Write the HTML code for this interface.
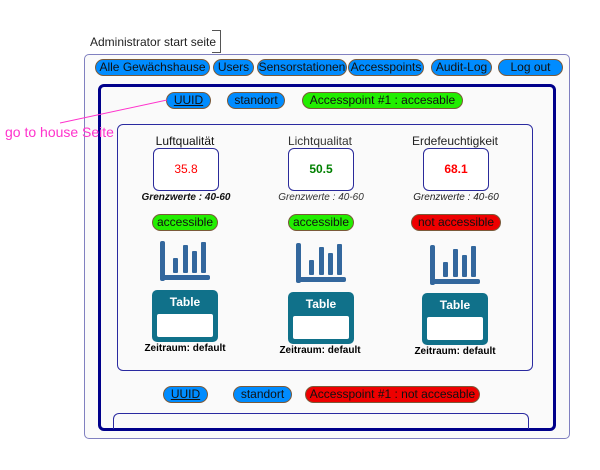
<!DOCTYPE html>
<html><head><meta charset="utf-8"><style>
body{margin:0;width:600px;height:470px;background:#fff;position:relative;overflow:hidden;font-family:"Liberation Sans",sans-serif;}
.a{position:absolute;box-sizing:border-box;}
.pill{position:absolute;box-sizing:border-box;border:1px solid #7a5a3a;border-radius:9px;background:#008cff;color:#111;font-size:12px;text-align:center;line-height:15px;white-space:nowrap;}
.t{position:absolute;white-space:nowrap;text-align:center;}
.val{position:absolute;box-sizing:border-box;border:1px solid #2a2a9a;border-radius:6px;background:#fff;font-size:12px;text-align:center;line-height:40px;}
.g{position:absolute;font-size:10px;font-weight:bold;font-style:italic;text-align:center;width:120px;}
.tab{position:absolute;box-sizing:border-box;width:66px;height:52px;background:#10718a;border-radius:5px;}
.tab span{position:absolute;left:0;width:66px;top:5px;text-align:center;color:#fff;font-weight:bold;font-size:12px;}
.tab i{position:absolute;left:5px;top:24px;width:56px;height:23px;background:#fff;border-radius:2px;}
.z{position:absolute;font-size:10px;font-weight:bold;width:120px;text-align:center;}
</style></head><body>
<div class="a" style="left:84px;top:54px;width:486px;height:385px;border:1px solid #8080c0;border-radius:5px;background:#fafafa"></div>
<div class="a" style="left:212px;top:30px;width:9px;height:23px;border-top:1.5px solid #555;border-right:1.5px solid #555;border-bottom:1.5px solid #555"></div>
<div class="t" style="left:90px;top:35px;font-size:12px;color:#222">Administrator start seite</div>

<div class="pill" style="left:95px;top:59px;width:115px;height:17px">Alle Gewächshause</div>
<div class="pill" style="left:213px;top:59px;width:41px;height:17px">Users</div>
<div class="pill" style="left:257px;top:59px;width:90px;height:17px">Sensorstationen</div>
<div class="pill" style="left:348px;top:59px;width:76px;height:17px">Accesspoints</div>
<div class="pill" style="left:431px;top:59px;width:61px;height:17px">Audit-Log</div>
<div class="pill" style="left:498px;top:59px;width:65px;height:17px">Log out</div>

<div class="a" style="left:98px;top:84px;width:458px;height:347px;border:3px solid #00008b;border-radius:6px"></div>

<div class="pill" style="left:166px;top:92px;width:45px;height:17px;text-decoration:underline">UUID</div>
<div class="pill" style="left:227px;top:92px;width:58px;height:17px">standort</div>
<div class="pill" style="left:302px;top:92px;width:161px;height:17px;background:#22ee00">Accesspoint #1 : accesable</div>

<svg class="a" style="left:0;top:0" width="600" height="470"><line x1="60" y1="123" x2="167" y2="100" stroke="#ff33cc" stroke-width="1"/></svg>
<div class="t" style="left:5px;top:124px;font-size:14px;color:#ff33cc">go to house Seite</div>

<div class="a" style="left:117px;top:124px;width:416px;height:247px;border:1px solid #2a2aa0;border-radius:6px"></div>

<div class="t" style="left:125px;top:134px;width:120px;font-size:12px;color:#111">Luftqualität</div>
<div class="t" style="left:260px;top:134px;width:120px;font-size:12px;color:#333">Lichtqualitat</div>
<div class="t" style="left:395px;top:134px;width:120px;font-size:12px;color:#222">Erdefeuchtigkeit</div>

<div class="val" style="left:153px;top:148px;width:66px;height:43px;color:#f00">35.8</div>
<div class="val" style="left:288px;top:148px;width:66px;height:43px;color:#008000;font-weight:bold">50.5</div>
<div class="val" style="left:423px;top:148px;width:66px;height:43px;color:#f00;font-weight:bold">68.1</div>

<div class="g" style="left:126px;top:192px;color:#111">Grenzwerte : 40-60</div>
<div class="g" style="left:261px;top:192px;color:#333;font-weight:normal">Grenzwerte : 40-60</div>
<div class="g" style="left:396px;top:192px;color:#222;font-weight:normal">Grenzwerte : 40-60</div>

<div class="pill" style="left:152px;top:214px;width:66px;height:17px;background:#22ee00">accessible</div>
<div class="pill" style="left:288px;top:214px;width:66px;height:17px;background:#22ee00">accessible</div>
<div class="pill" style="left:411px;top:214px;width:90px;height:17px;background:#ee0000">not accessible</div>

<svg class="a" style="left:0;top:0" width="600" height="470" fill="#33679d">
<g transform="translate(160,241)"><rect x="0" y="0" width="5" height="40" rx="2"/><rect x="0" y="34" width="50" height="5" rx="2"/><rect x="13" y="17" width="5" height="15" rx="1"/><rect x="23" y="4" width="5" height="28" rx="1"/><rect x="32" y="10" width="5" height="22" rx="1"/><rect x="41" y="1" width="5" height="31" rx="1"/></g>
<g transform="translate(296,243)"><rect x="0" y="0" width="5" height="40" rx="2"/><rect x="0" y="34" width="50" height="5" rx="2"/><rect x="13" y="17" width="5" height="15" rx="1"/><rect x="23" y="4" width="5" height="28" rx="1"/><rect x="32" y="10" width="5" height="22" rx="1"/><rect x="41" y="1" width="5" height="31" rx="1"/></g>
<g transform="translate(430,245)"><rect x="0" y="0" width="5" height="40" rx="2"/><rect x="0" y="34" width="50" height="5" rx="2"/><rect x="13" y="17" width="5" height="15" rx="1"/><rect x="23" y="4" width="5" height="28" rx="1"/><rect x="32" y="10" width="5" height="22" rx="1"/><rect x="41" y="1" width="5" height="31" rx="1"/></g>
</svg>

<div class="tab" style="left:152px;top:290px"><span>Table</span><i></i></div>
<div class="tab" style="left:288px;top:292px"><span>Table</span><i></i></div>
<div class="tab" style="left:422px;top:293px"><span>Table</span><i></i></div>

<div class="z" style="left:125px;top:343px">Zeitraum: default</div>
<div class="z" style="left:260px;top:345px">Zeitraum: default</div>
<div class="z" style="left:395px;top:346px">Zeitraum: default</div>

<div class="pill" style="left:163px;top:386px;width:45px;height:17px;text-decoration:underline">UUID</div>
<div class="pill" style="left:233px;top:386px;width:59px;height:17px">standort</div>
<div class="pill" style="left:305px;top:386px;width:175px;height:17px;background:#ee0000">Accesspoint #1 :  not accesable</div>

<div class="a" style="left:113px;top:413px;width:416px;height:16px;border:1px solid #2a2aa0;border-bottom:none;border-radius:6px 6px 0 0"></div>
</body></html>
